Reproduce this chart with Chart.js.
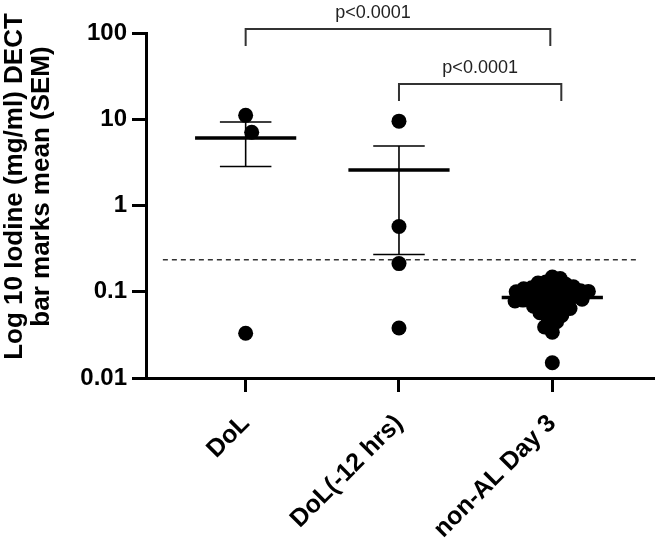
<!DOCTYPE html>
<html>
<head>
<meta charset="utf-8">
<script src="https://cdn.jsdelivr.net/npm/chart.js@4/dist/chart.umd.min.js"></script>
<style>
  html, body { margin: 0; padding: 0; background: #fff; }
  #wrap { width: 661px; height: 542px; }
</style>
</head>
<body>
<div id="wrap"><canvas id="myChart" width="661" height="542"></canvas></div>
<script>
// groups on the x axis
const categories = ['DoL', 'DoL(-12 hrs)', 'non-AL Day 3'];

// iodine values (mg/ml) per group
const dolValues = [11.1, 7.06, 0.033];
const dol12Values = [9.5, 0.57, 0.212, 0.038];
const nonAlValues = [
  0.148, 0.142,
  0.13, 0.126, 0.122, 0.12,
  0.114, 0.111, 0.108, 0.106, 0.105, 0.103, 0.101, 0.1,
  0.097, 0.094, 0.092, 0.09, 0.088, 0.086, 0.084, 0.082,
  0.08, 0.078, 0.076, 0.074, 0.072,
  0.068, 0.066, 0.064, 0.062,
  0.057, 0.055, 0.053,
  0.047, 0.045,
  0.039, 0.034,
  0.015
];

const yTicks = [0.01, 0.1, 1, 10, 100];
const cutoff = 0.235; // dashed threshold line

// significance brackets: group index from / to, label
const brackets = [
  { from: 1, to: 3, label: 'p<0.0001' },
  { from: 2, to: 3, label: 'p<0.0001' }
];

const groups = [dolValues, dol12Values, nonAlValues];

function mean(arr) {
  return arr.reduce((a, b) => a + b, 0) / arr.length;
}
function sem(arr) {
  const m = mean(arr);
  const ss = arr.reduce((a, b) => a + (b - m) * (b - m), 0);
  return Math.sqrt(ss / (arr.length - 1)) / Math.sqrt(arr.length);
}

// mean lines + error bars built from the data
const meanData = [];
const errData = [];
groups.forEach((g, i) => {
  const c = i + 1;
  const m = mean(g), s = sem(g);
  meanData.push({ x: c - 0.33, y: m }, { x: c + 0.33, y: m }, { x: c, y: null });
  errData.push({ x: c, y: m - s }, { x: c, y: m + s }, { x: c, y: null });
  errData.push({ x: c - 0.168, y: m + s }, { x: c + 0.168, y: m + s }, { x: c, y: null });
  errData.push({ x: c - 0.168, y: m - s }, { x: c + 0.168, y: m - s }, { x: c, y: null });
});

const pointData = [];
groups.forEach((g, i) => g.forEach(v => pointData.push({ x: i + 1, y: v })));

const FONT = '"Liberation Sans", Arial, sans-serif';

// y title and p-value brackets
const extras = {
  id: 'extras',
  afterDraw(chart) {
    const ctx = chart.ctx;
    const xs = chart.scales.x;
    const area = chart.chartArea;
    ctx.save();
    // axis title
    ctx.fillStyle = '#000';
    ctx.font = 'bold 26px ' + FONT;
    ctx.textAlign = 'center';
    ctx.textBaseline = 'middle';
    ctx.translate(0, (area.top + area.bottom) / 2 - 19);
    ctx.rotate(-Math.PI / 2);
    ctx.fillText('Log 10 Iodine (mg/ml) DECT', 0, 15);
    ctx.fillText('bar marks mean (SEM)', 0, 42);
    ctx.restore();

    ctx.save();
    ctx.strokeStyle = '#333';
    ctx.lineWidth = 2;
    ctx.fillStyle = '#222';
    ctx.font = '18px ' + FONT;
    ctx.textAlign = 'center';
    ctx.textBaseline = 'middle';
    brackets.forEach((b, i) => {
      const x1 = xs.getPixelForValue(b.from);
      const x2 = xs.getPixelForValue(b.to) + (i === 0 ? -2 : 9);
      const yTop = area.top - 4 + i * 55;
      ctx.beginPath();
      ctx.moveTo(x1, yTop + 17);
      ctx.lineTo(x1, yTop);
      ctx.lineTo(x2, yTop);
      ctx.lineTo(x2, yTop + 17);
      ctx.stroke();
      const tx = i === 0 ? (x1 + x2) / 2 - 25 : (x1 + x2) / 2;
      ctx.fillText(b.label, tx, yTop - 16);
    });
    ctx.restore();
  }
};

const config = {
  type: 'scatter',
  data: {
    datasets: [
      {
        data: pointData,
        pointRadius: 7.5,
        pointHoverRadius: 7.5,
        pointBackgroundColor: '#000',
        pointBorderWidth: 0,
        clip: false
      },
      {
        data: meanData,
        showLine: true,
        borderColor: '#000',
        borderWidth: 3.5,
        pointRadius: 0,
        spanGaps: false
      },
      {
        data: errData,
        showLine: true,
        borderColor: '#000',
        borderWidth: 1.6,
        pointRadius: 0,
        spanGaps: false
      },
      {
        data: [{ x: 0.46, y: cutoff }, { x: 3.55, y: cutoff }],
        showLine: true,
        borderColor: '#333',
        borderWidth: 1.5,
        borderDash: [5, 4],
        pointRadius: 0
      }
    ]
  },
  options: {
    responsive: false,
    animation: false,
    layout: { padding: { top: 33, right: 3, left: 0, bottom: 0 } },
    plugins: { legend: { display: false }, tooltip: { enabled: false } },
    scales: {
      x: {
        type: 'linear',
        min: 0.35,
        max: 3.66,
        afterBuildTicks: s => { s.ticks = categories.map((c, i) => ({ value: i + 1 })); },
        afterFit: s => { s.height = 164; },
        ticks: {
          callback: v => categories[v - 1],
          minRotation: 45,
          maxRotation: 45,
          padding: 17,
          color: '#000',
          font: { family: FONT, size: 25, weight: 'bold' }
        },
        grid: { drawOnChartArea: false, drawTicks: true, tickLength: 14, color: '#000', lineWidth: 3 },
        border: { display: true, color: '#000', width: 3 }
      },
      y: {
        type: 'logarithmic',
        min: 0.01,
        max: 100,
        afterBuildTicks: s => { s.ticks = yTicks.map(v => ({ value: v })); },
        afterFit: s => { s.width = 146; },
        ticks: {
          callback: v => String(v),
          padding: 5,
          color: '#000',
          font: { family: FONT, size: 24, weight: 'bold' }
        },
        grid: { drawOnChartArea: false, drawTicks: true, tickLength: 14, color: '#000', lineWidth: 3 },
        border: { display: true, color: '#000', width: 3 }
      }
    }
  },
  plugins: [extras]
};

//render block
const myChart = new Chart(document.getElementById('myChart'), config);

// spread each group's points sideways so they overlap only partly (swarm)
function swarm(values, center, D) {
  const ys = myChart.scales.y, xs = myChart.scales.x;
  const unit = xs.getPixelForValue(2) - xs.getPixelForValue(1);
  const order = values.map((v, i) => i).sort((a, b) => values[b] - values[a]);
  const placed = [];
  const out = new Array(values.length);
  order.forEach(idx => {
    const py = ys.getPixelForValue(values[idx]);
    const cands = [0];
    placed.forEach(p => {
      const dy = py - p.py;
      if (Math.abs(dy) < D) {
        const dx = Math.sqrt(D * D - dy * dy);
        cands.push(p.x + dx, p.x - dx);
      }
    });
    cands.sort((a, b) => Math.abs(a) - Math.abs(b));
    let px = 0;
    for (const c of cands) {
      const ok = placed.every(p => (c - p.x) ** 2 + (py - p.py) ** 2 >= D * D - 0.01);
      if (ok) { px = c; break; }
    }
    placed.push({ x: px, py });
    out[idx] = { x: center + px / unit, y: values[idx] };
  });
  return out;
}

const swarmGap = [18, 15, 8];
myChart.data.datasets[0].data = groups.flatMap((g, i) => swarm(g, i + 1, swarmGap[i]));
myChart.update('none');
</script>
</body>
</html>
